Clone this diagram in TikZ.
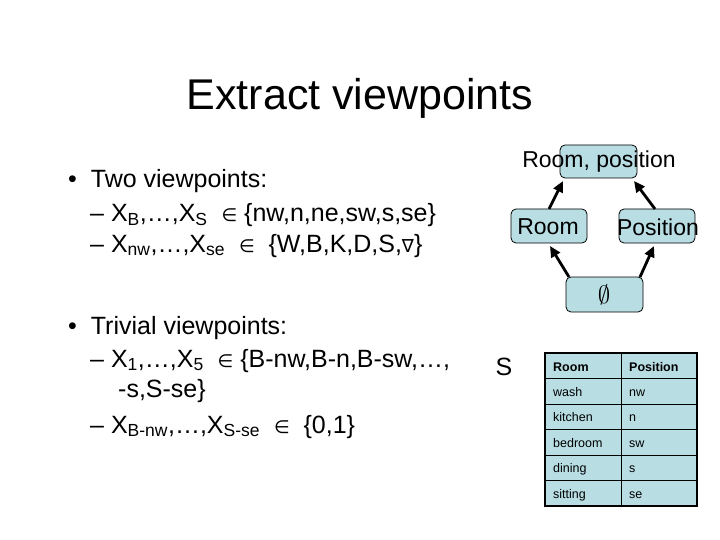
\documentclass[tikz,border=0pt]{standalone}
\usepackage{fontspec}
\usetikzlibrary{arrows.meta}
\setmainfont{Liberation Sans}
\newfontfamily\symf{DejaVu Sans}
\definecolor{tealf}{RGB}{184,222,228}
\begin{document}
\begin{tikzpicture}[x=1pt,y=-1pt,
  txt/.style={anchor=base west,inner sep=0pt,font=\fontsize{25}{28}\selectfont},
  bx/.style={draw,fill=tealf,rounded corners=5pt,line width=0.8pt},
  lbl/.style={font=\fontsize{23}{26}\selectfont,inner sep=0pt},
  arr/.style={-{Triangle[length=11pt,width=10pt]},line width=2.8pt},
  cell/.style={anchor=base west,inner sep=0pt,font=\fontsize{12.5}{14}\selectfont}]
\useasboundingbox (0,0) rectangle (720,540);
\node[anchor=base,inner sep=0pt,font=\fontsize{43}{48}\selectfont] (title) at (360,110) {Extract viewpoints};
\node[txt] (b1) at (68,188) {\textbullet\ \ Two viewpoints:};
\node[txt] (l1) at (90,222) {– X\textsubscript{B},…,X\textsubscript{S} \ {\symf\fontsize{18}{20}\selectfont ∈}\ \{nw,n,ne,sw,s,se\}};
\node[txt] (l2) at (90,252) {– X\textsubscript{nw},…,X\textsubscript{se} \ {\symf\fontsize{18}{20}\selectfont ∈}\ \ \{W,B,K,D,S,{\symf\fontsize{18}{20}\selectfont ∇}\}};
\node[txt] (b2) at (68,334) {\textbullet\ \ Trivial viewpoints:};
\node[txt] (l3) at (90,367) {– X\textsubscript{1},…,X\textsubscript{5} \ {\symf\fontsize{18}{20}\selectfont ∈}\ \{B-nw,B-n,B-sw,…,};
\node[txt] (l4) at (118,397) {-s,S-se\}};
\node[txt] (l5) at (90,433) {– X\textsubscript{B-nw},…,X\textsubscript{S-se} \ {\symf\fontsize{18}{20}\selectfont ∈}\ \ \{0,1\}};
% lattice
\draw[bx] (560,145) rectangle (637,178);
\draw[bx] (511,209) rectangle (587,243);
\draw[bx] (619,209) rectangle (695,243);
\draw[bx] (566,277) rectangle (643,312);
\node[lbl] (top) at (599,162) {Room, position};
\node[lbl] (room) at (548,227) {Room};
\node[lbl] (pos) at (658,227) {Position};
\node[font=\fontsize{26}{28}\selectfont,inner sep=0pt] (empty) at (604,295) {$\emptyset$};
\coordinate (t1) at (563,181); \coordinate (t2) at (634,181);
\coordinate (r1) at (549,209); \coordinate (r2) at (550,246);
\coordinate (p1) at (655,209); \coordinate (p2) at (654,246);
\coordinate (e1) at (569,277); \coordinate (e2) at (640,277);
\draw[arr] (r1) -- (t1);
\draw[arr] (p1) -- (t2);
\draw[arr] (e1) -- (r2);
\draw[arr] (e2) -- (p2);
% table
\node[font=\fontsize{25}{28}\selectfont,inner sep=0pt] (S) at (504,367) {S};
\fill[tealf] (545,353) rectangle (697,506);
\draw[line width=1.5pt] (545,353) rectangle (697,506);
\draw[line width=0.8pt] (545,378.5) -- (697,378.5);
\foreach \y in {404,429.5,455,480.5} \draw[line width=0.5pt] (545,\y) -- (697,\y);
\draw[line width=0.8pt] (621,353) -- (621,506);
\node[cell,font=\bfseries\fontsize{12.5}{14}\selectfont] (h1) at (553,371) {Room};
\node[cell,font=\bfseries\fontsize{12.5}{14}\selectfont] (h2) at (629,371) {Position};
\node[cell] (a1) at (553,396) {wash}; \node[cell] (a2) at (629,396) {nw};
\node[cell] (b1c) at (553,421) {kitchen}; \node[cell] (b2c) at (629,421) {n};
\node[cell] (c1) at (553,447) {bedroom}; \node[cell] (c2) at (629,447) {sw};
\node[cell] (d1) at (553,472) {dining}; \node[cell] (d2) at (629,472) {s};
\node[cell] (e1c) at (553,498) {sitting}; \node[cell] (e2c) at (629,498) {se};
\end{tikzpicture}
\end{document}
